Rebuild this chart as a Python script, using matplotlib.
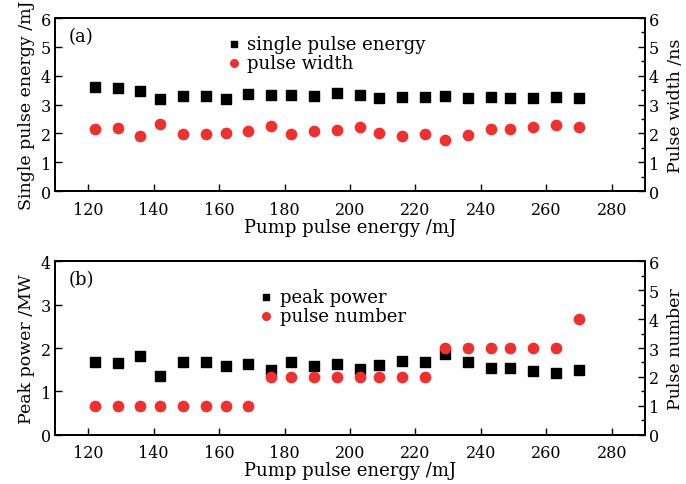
import matplotlib
matplotlib.use("Agg")
import matplotlib.pyplot as plt
from matplotlib.ticker import MultipleLocator

plt.rcParams['font.family'] = ['DejaVu Serif']
plt.rcParams['mathtext.fontset'] = 'dejavuserif'

# pump pulse energy (mJ)
pump = [122, 129, 136, 142, 149, 156, 162, 169, 176, 182, 189, 196,
        203, 209, 216, 223, 229, 236, 243, 249, 256, 263, 270]

# panel (a)
single_energy = [3.62, 3.58, 3.48, 3.19, 3.28, 3.30, 3.19, 3.37, 3.33, 3.33, 3.28, 3.41,
                 3.33, 3.24, 3.27, 3.27, 3.30, 3.24, 3.26, 3.24, 3.24, 3.26, 3.24]
pulse_width = [2.15, 2.19, 1.92, 2.34, 1.97, 1.97, 2.00, 2.09, 2.24, 1.99, 2.08, 2.13,
               2.23, 2.02, 1.92, 1.97, 1.77, 1.94, 2.14, 2.14, 2.22, 2.28, 2.21]

# panel (b)
peak_power = [1.68, 1.65, 1.82, 1.36, 1.67, 1.68, 1.58, 1.62, 1.50, 1.68, 1.58, 1.62,
              1.52, 1.61, 1.71, 1.67, 1.87, 1.67, 1.54, 1.53, 1.46, 1.43, 1.49]
pulse_number = [1, 1, 1, 1, 1, 1, 1, 1, 2, 2, 2, 2,
                2, 2, 2, 2, 3, 3, 3, 3, 3, 3, 4]

RED = '#ee3030'
TICK_FS = 11.5
LABEL_FS = 12.5
LEG_FS = 13


def style_axes(ax, ax2, ymax_left):
    ax.set_xlim(110, 290)
    ax.set_ylim(0, ymax_left)
    ax2.set_ylim(0, 6)
    ax.xaxis.set_major_locator(MultipleLocator(20))
    ax.yaxis.set_major_locator(MultipleLocator(1))
    ax2.yaxis.set_major_locator(MultipleLocator(1))
    ax2.yaxis.set_minor_locator(MultipleLocator(0.5))
    ax.tick_params(axis='x', direction='in', length=5, width=1, top=False,
                   labelsize=TICK_FS, pad=7)
    ax.tick_params(axis='y', direction='in', length=5, width=1, right=False,
                   labelsize=TICK_FS, pad=3)
    ax2.tick_params(axis='y', which='major', direction='in', length=5, width=1,
                    labelsize=TICK_FS, pad=3)
    ax2.tick_params(axis='y', which='minor', direction='in', length=3, width=1)
    for a in (ax, ax2):
        for s in a.spines.values():
            s.set_linewidth(1.3)
    ax.set_xlabel('Pump pulse energy /mJ', fontsize=13, labelpad=0)


fig = plt.figure(figsize=(6.86, 4.85), dpi=100)

# panel (a)
ax1 = fig.add_axes([0.0806, 0.6041, 0.8592, 0.3567])
ax1b = ax1.twinx()
ax1.scatter(pump, single_energy, marker='s', s=42, color='black', zorder=3)
ax1b.scatter(pump, pulse_width, marker='o', s=55, color=RED, zorder=3)
style_axes(ax1, ax1b, 6)
ax1.set_ylabel('Single pulse energy /mJ', fontsize=LABEL_FS, labelpad=4)
ax1b.set_ylabel('Pulse width /ns', fontsize=LABEL_FS, labelpad=6)
ax1.text(0.022, 0.95, '(a)', transform=ax1.transAxes, fontsize=13, va='top')
h1 = ax1.scatter([], [], marker='s', s=22, color='black')
h2 = ax1.scatter([], [], marker='o', s=30, color=RED)
ax1.legend([h1, h2], ['single pulse energy', 'pulse width'], loc='upper left',
           bbox_to_anchor=(0.26, 0.985), frameon=False, fontsize=LEG_FS,
           handletextpad=0.15, labelspacing=0.05, borderpad=0.3, handlelength=1.2)

# panel (b)
ax2 = fig.add_axes([0.0806, 0.1016, 0.8592, 0.3576])
ax2b = ax2.twinx()
ax2.scatter(pump, peak_power, marker='s', s=42, color='black', zorder=3)
ax2b.scatter(pump, pulse_number, marker='o', s=55, color=RED, zorder=3)
style_axes(ax2, ax2b, 4)
ax2.set_ylabel('Peak power /MW', fontsize=LABEL_FS, labelpad=4)
ax2b.set_ylabel('Pulse number', fontsize=LABEL_FS, labelpad=6)
ax2.text(0.022, 0.95, '(b)', transform=ax2.transAxes, fontsize=13, va='top')
h3 = ax2.scatter([], [], marker='s', s=22, color='black')
h4 = ax2.scatter([], [], marker='o', s=30, color=RED)
ax2.legend([h3, h4], ['peak power', 'pulse number'], loc='upper left',
           bbox_to_anchor=(0.315, 0.93), frameon=False, fontsize=LEG_FS,
           handletextpad=0.15, labelspacing=0.05, borderpad=0.3, handlelength=1.2)

fig.savefig('out.png', dpi=100)
